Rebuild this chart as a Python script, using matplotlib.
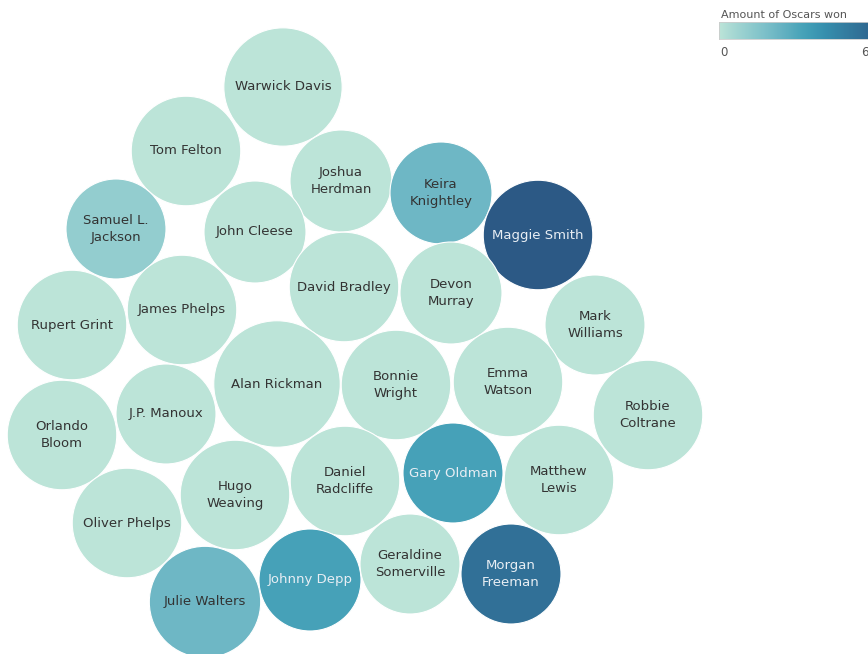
import numpy as np
import matplotlib
matplotlib.use("Agg")
import matplotlib.pyplot as plt
from matplotlib.colors import LinearSegmentedColormap
from matplotlib.patches import Circle

# data
actors = ["Warwick Davis", "Tom Felton", "Joshua\nHerdman", "Keira\nKnightley", "Maggie Smith",
          "Samuel L.\nJackson", "John Cleese", "David Bradley", "Devon\nMurray", "Mark\nWilliams",
          "Rupert Grint", "James Phelps", "Alan Rickman", "Bonnie\nWright", "Emma\nWatson",
          "Robbie\nColtrane", "Orlando\nBloom", "J.P. Manoux", "Hugo\nWeaving", "Daniel\nRadcliffe",
          "Gary Oldman", "Matthew\nLewis", "Oliver Phelps", "Julie Walters", "Johnny Depp",
          "Geraldine\nSomerville", "Morgan\nFreeman"]
oscars = [0, 0, 0, 2, 6,
          1, 0, 0, 0, 0,
          0, 0, 0, 0, 0,
          0, 0, 0, 0, 0,
          3, 0, 0, 2, 3,
          0, 5]
bubble_size = [35, 30, 26, 26, 30,
               25, 26, 30, 26, 25,
               30, 30, 40, 30, 30,
               30, 30, 25, 30, 30,
               25, 30, 30, 31, 26,
               25, 25]

# packed layout (pixel centres, Tableau places these itself)
layout_x = [283, 186, 341, 441, 538, 116, 255, 344, 451, 595, 72, 182, 277, 396, 508,
            648, 62, 166, 235, 345, 453, 559, 127, 205, 310, 410, 511]
layout_y = [87, 151, 181, 193, 235, 229, 232, 287, 293, 325, 325, 310, 384, 385, 382,
            415, 435, 414, 495, 481, 473, 480, 523, 602, 580, 564, 574]

blue_teal = ["#bce4d8", "#aedcd5", "#a1d5d2", "#95cecf", "#89c8cc", "#7ec1ca", "#72bac6",
             "#66b2c2", "#59acbe", "#4ba5ba", "#419eb6", "#3b96b2", "#358ead", "#3586a7",
             "#347ea1", "#32779b", "#316f96", "#2f6790", "#2d608a", "#2c5985"]
cmap = LinearSegmentedColormap.from_list("blueteal", blue_teal)
vmax = 6

W, H = 868, 654
fig = plt.figure(figsize=(W / 100, H / 100), dpi=100)
ax = fig.add_axes([0, 0, 1, 1])
ax.set_xlim(0, W)
ax.set_ylim(H, 0)
ax.set_aspect("equal")
ax.axis("off")

for name, n, s, x, y in zip(actors, oscars, bubble_size, layout_x, layout_y):
    r = 10 * np.sqrt(s)
    ax.add_patch(Circle((x, y), r, facecolor=cmap(n / vmax), edgecolor="white", lw=0.8))
    tc = "#e8eef4" if n >= 3 else "#333333"
    ax.text(x, y, name, ha="center", va="center", fontsize=9.5, color=tc,
            linespacing=1.35, family="DejaVu Sans")

# colour legend, runs off the right edge like the original
cax = fig.add_axes([719 / W, 1 - 39 / H, 170 / W, 17 / H])
grad = np.linspace(0, 1, 256).reshape(1, -1)
cax.imshow(grad, aspect="auto", cmap=cmap, extent=[0, 6.9, 0, 1])
cax.set_xlim(0, 6.9)
cax.set_xticks([])
cax.set_yticks([])
for sp in cax.spines.values():
    sp.set_color("#cccccc")
    sp.set_linewidth(0.6)
fig.text(721 / W, 1 - 15 / H, "Amount of Oscars won", fontsize=8, color="#555555",
         ha="left", va="center")
fig.text(720 / W, 1 - 52 / H, "0", fontsize=8.5, color="#555555", ha="left", va="center")
fig.text(861 / W, 1 - 52 / H, "6", fontsize=8.5, color="#555555", ha="left", va="center")

fig.savefig("out.png", dpi=100)
